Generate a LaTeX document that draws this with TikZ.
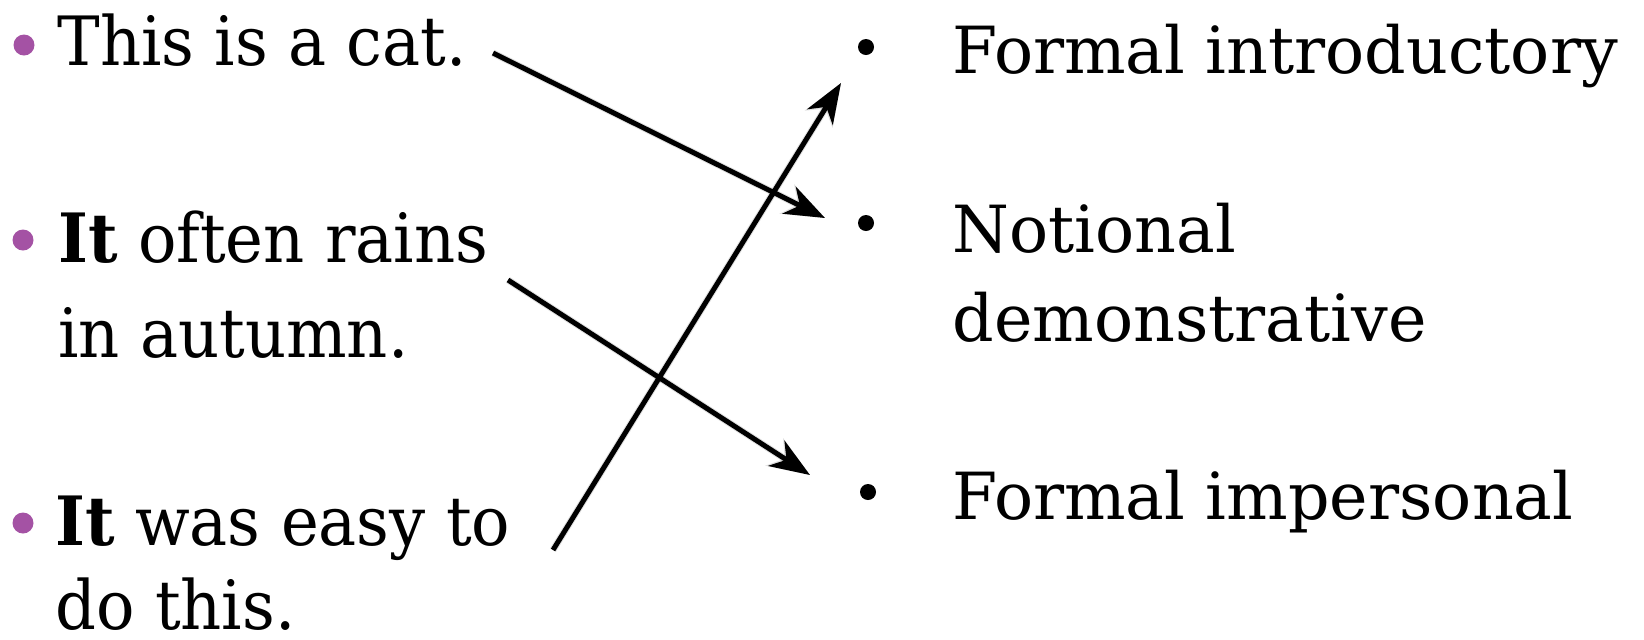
\documentclass[tikz,border=0pt]{standalone}
\usepackage{fontspec}
\setmainfont{DejaVu Serif}
\newfontfamily\leftfont[FakeStretch=0.94]{DejaVu Serif}
\newfontfamily\rightfont{DejaVu Serif}
\usetikzlibrary{arrows.meta}
\definecolor{bulletpurple}{RGB}{164,82,164}
\tikzset{
  lefttext/.style={anchor=base west, inner sep=0pt, font=\leftfont\fontsize{34}{40}\selectfont},
  righttext/.style={anchor=base west, inner sep=0pt, font=\rightfont\fontsize{32.5}{38}\selectfont},
  pbullet/.style={circle, fill=bulletpurple, inner sep=0pt, minimum size=10.5pt},
  kbullet/.style={circle, fill=black, inner sep=0pt, minimum size=8pt},
  link/.style={line width=2.5pt, -{Stealth[length=20pt, width=15pt, inset=6pt]}},
  linkshadow/.style={line width=3.5pt, black, opacity=0.12, -{Stealth[length=21pt, width=16pt, inset=6pt]}}
}
\begin{document}
\begin{tikzpicture}[x=0.5pt, y=-0.5pt]
\useasboundingbox (0,0) rectangle (1644,639);
% left items
\node[pbullet] (pb1) at (24,45) {};
\node[lefttext] (l1) at (57,65) {This is a cat.};
\node[pbullet] (pb2) at (23,240) {};
\node[lefttext] (l2a) at (58,262) {\textbf{It} often rains};
\node[lefttext] (l2b) at (58,357) {in autumn.};
\node[pbullet] (pb3) at (23,523) {};
\node[lefttext] (l3a) at (55,545) {\textbf{It} was easy to};
\node[lefttext] (l3b) at (55,629) {do this.};
% right items
\node[kbullet] (kb1) at (866,47) {};
\node[righttext] (r1) at (952,73) {Formal introductory};
\node[kbullet] (kb2) at (866,223) {};
\node[righttext] (r2a) at (952,252) {Notional};
\node[righttext] (r2b) at (952,341) {demonstrative};
\node[kbullet] (kb3) at (868,492) {};
\node[righttext] (r3) at (952,519) {Formal impersonal};
% connector ends
\coordinate (a1s) at (493,53);
\coordinate (a1e) at (825,218);
\coordinate (a2s) at (508,280);
\coordinate (a2e) at (810,475);
\coordinate (a3s) at (553,550);
\coordinate (a3e) at (841,83);
% shadows
\begin{scope}[shift={(3,4)}]
\draw[linkshadow] (a1s) -- (a1e);
\draw[linkshadow] (a2s) -- (a2e);
\draw[linkshadow] (a3s) -- (a3e);
\end{scope}
% connectors
\draw[link] (a1s) -- (a1e);
\draw[link] (a2s) -- (a2e);
\draw[link] (a3s) -- (a3e);
\end{tikzpicture}
\end{document}
